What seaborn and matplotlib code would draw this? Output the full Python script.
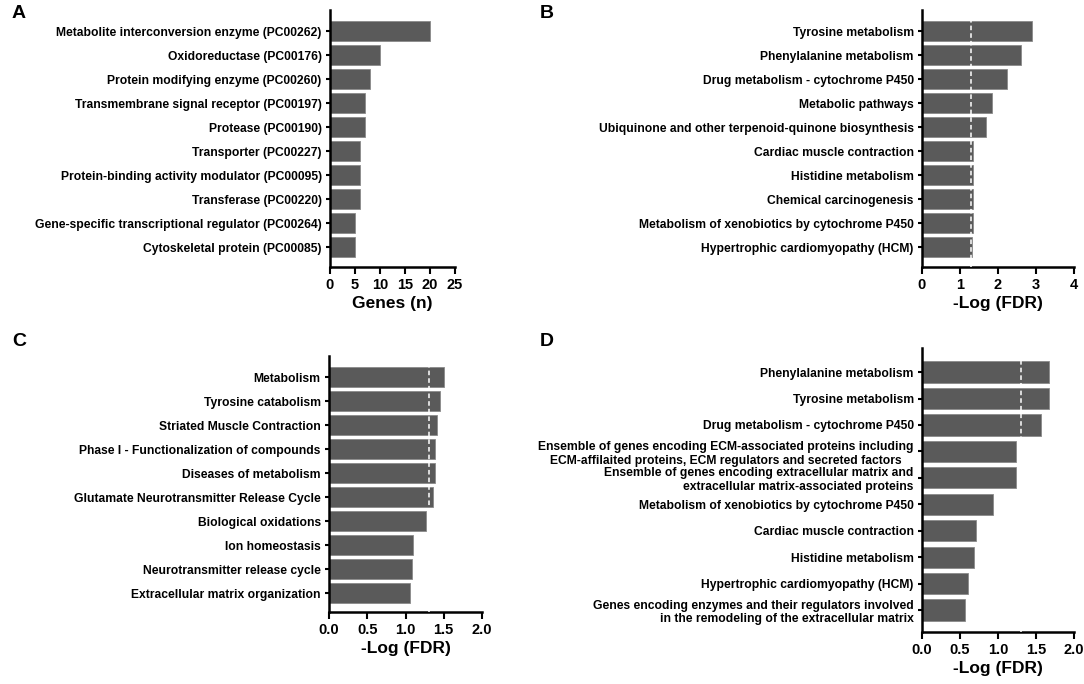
import matplotlib
matplotlib.use("Agg")
import matplotlib.pyplot as plt
import seaborn as sns
import numpy as np

# panel A - protein classes
a_labels = ["Metabolite interconversion enzyme (PC00262)", "Oxidoreductase (PC00176)",
            "Protein modifying enzyme (PC00260)", "Transmembrane signal receptor (PC00197)",
            "Protease (PC00190)", "Transporter (PC00227)",
            "Protein-binding activity modulator (PC00095)", "Transferase (PC00220)",
            "Gene-specific transcriptional regulator (PC00264)", "Cytoskeletal protein (PC00085)"]
a_values = [20, 10, 8, 7, 7, 6, 6, 6, 5, 5]

# panel B - KEGG
b_labels = ["Tyrosine metabolism", "Phenylalanine metabolism", "Drug metabolism - cytochrome P450",
            "Metabolic pathways", "Ubiquinone and other terpenoid-quinone biosynthesis",
            "Cardiac muscle contraction", "Histidine metabolism", "Chemical carcinogenesis",
            "Metabolism of xenobiotics by cytochrome P450", "Hypertrophic cardiomyopathy (HCM)"]
b_values = [2.89, 2.6, 2.24, 1.84, 1.68, 1.33, 1.33, 1.33, 1.33, 1.32]

# panel C - Reactome
c_labels = ["Metabolism", "Tyrosine catabolism", "Striated Muscle Contraction",
            "Phase I - Functionalization of compounds", "Diseases of metabolism",
            "Glutamate Neurotransmitter Release Cycle", "Biological oxidations",
            "Ion homeostasis", "Neurotransmitter release cycle", "Extracellular matrix organization"]
c_values = [1.50, 1.455, 1.41, 1.39, 1.385, 1.36, 1.27, 1.10, 1.08, 1.065]

# panel D - WikiPathways / MSigDB
d_labels = ["Phenylalanine metabolism", "Tyrosine metabolism", "Drug metabolism - cytochrome P450",
            "Ensemble of genes encoding ECM-associated proteins including\nECM-affilaited proteins, ECM regulators and secreted factors",
            "Ensemble of genes encoding extracellular matrix and\nextracellular matrix-associated proteins",
            "Metabolism of xenobiotics by cytochrome P450", "Cardiac muscle contraction",
            "Histidine metabolism", "Hypertrophic cardiomyopathy (HCM)",
            "Genes encoding enzymes and their regulators involved\nin the remodeling of the extracellular matrix"]
d_values = [1.675, 1.675, 1.57, 1.24, 1.24, 0.94, 0.71, 0.68, 0.60, 0.56]

fdr_cut = -np.log10(0.05)

sns.set_style("ticks")
plt.rcParams['font.family'] = ['Liberation Sans', 'DejaVu Sans']
plt.rcParams['font.weight'] = 'bold'
for k in ['text.color', 'axes.labelcolor', 'xtick.color', 'ytick.color']:
    plt.rcParams[k] = 'black'

W, H = 1084, 684
fig = plt.figure(figsize=(W / 100, H / 100), dpi=100)


def px_axes(left, right, top, bottom):
    return fig.add_axes([left / W, (H - bottom) / H, (right - left) / W, (bottom - top) / H])


def panel(ax, labels, values, xmax, step, xlabel, ylim, cutline=True, fmt=None):
    sns.barplot(x=values, y=labels, color="#5a5a5a", edgecolor="#8a8a8a", linewidth=0.6,
                width=0.8, saturation=1, ax=ax, orient="h")
    ax.set_xlim(0, xmax)
    ax.set_ylim(*ylim)
    ax.set_xticks(np.arange(0, xmax + step / 2, step))
    if fmt:
        ax.set_xticklabels([fmt.format(t) for t in ax.get_xticks()])
    ax.set_ylabel("")
    if xlabel:
        ax.set_xlabel(xlabel, fontsize=12.5, fontweight="bold", labelpad=3)
    sns.despine(ax=ax)
    for s in ["left", "bottom"]:
        ax.spines[s].set_linewidth(1.8)
        ax.spines[s].set_color("black")
    ax.tick_params(axis="y", length=3, width=1.5, pad=3, labelsize=8.7)
    ax.tick_params(axis="x", length=5, width=1.5, pad=3, labelsize=10.5)
    for lab in ax.get_yticklabels() + ax.get_xticklabels():
        lab.set_fontweight("bold")
    if cutline:
        ax.axvline(fdr_cut, color="white", lw=1.1, ls=(0, (3, 2)), zorder=4)


axA = px_axes(330, 455, 10, 267)
panel(axA, a_labels, a_values, 25, 5, "Genes (n)", (9.83, -0.875), cutline=False)

axB = px_axes(922, 1074, 10, 267)
panel(axB, b_labels, b_values, 4, 1, "-Log (FDR)", (9.83, -0.875))

axC = px_axes(329, 482, 356, 612)
panel(axC, c_labels, c_values, 2, 0.5, "-Log (FDR)", (9.79, -0.875), fmt="{:.1f}")

axD = px_axes(922, 1074, 348, 632)
panel(axD, d_labels, d_values, 2, 0.5, "-Log (FDR)", (9.83, -0.91), fmt="{:.1f}")
for lab in axD.get_yticklabels():
    lab.set_multialignment("right")
    lab.set_linespacing(1.2)
axD.get_yticklabels()[3].set_multialignment("center")

for x, y, t in [(12, 14, "A"), (540, 14, "B"), (12, 342, "C"), (540, 342, "D")]:
    fig.text(x / W, 1 - y / H, t, fontsize=14, fontweight="bold", va="center", ha="left")

fig.savefig("out.png", dpi=100)
